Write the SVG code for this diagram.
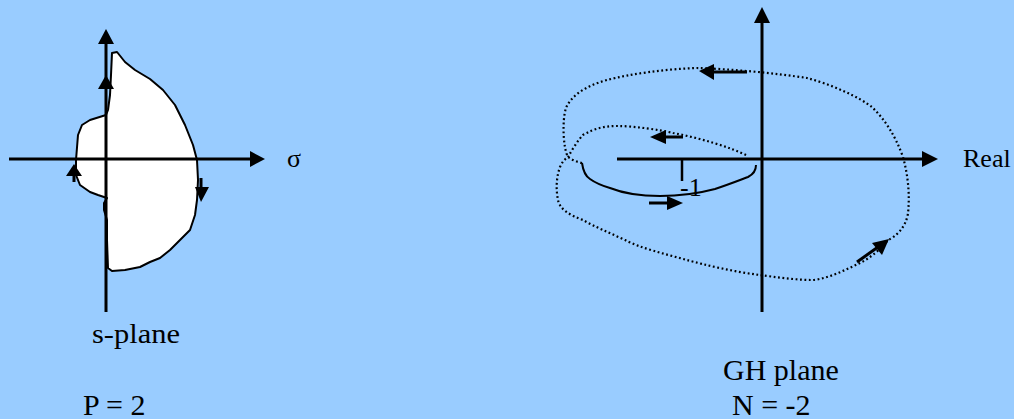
<svg xmlns="http://www.w3.org/2000/svg" width="1014" height="419" viewBox="0 0 1014 419">
<style>
.axis{stroke:#000;stroke-width:3;fill:none}
.head{fill:#000;stroke:none}
.shape{fill:#fff;stroke:#000;stroke-width:2;stroke-linejoin:round}
.dot{fill:none;stroke:#000;stroke-width:2.2;stroke-dasharray:1.8 2.6}
.solid{fill:none;stroke:#000;stroke-width:2}
.stem{stroke:#000;stroke-width:3;fill:none}
.lbl{font-family:'Liberation Serif','Times New Roman','DejaVu Serif',serif;fill:#000}
</style>
<rect width="1014" height="419" fill="#99CCFF"/>
<g id="s-plane">
  <path class="shape" d="M112,53 L117,52 L125,62 L135,70 L150,79 L163,90 L175,105 L185,125 L193,145 L197,160 L198,180 L197,200 L195,215 L190,230 L180,240 L170,250 L160,258 L150,262 L140,267 L125,270 L112,271 L108,268 L107,240 L107,220 L104,210 L104,203 L107,198 L98,195 L90,192 L80,185 L76,175 L76,160 L78,135 L82,125 L90,120 L106,115 L108,110 L110,95 L111,75 Z"/>
  <line class="axis" x1="106" y1="312" x2="106" y2="42"/>
  <polygon class="head" points="106,29 98,44 114,44"/>
  <line class="axis" x1="9" y1="159" x2="252" y2="159"/>
  <polygon class="head" points="265,159 250,151 250,167"/>
  <polygon class="head" points="106,75 98,89 114,89"/>
  <line class="stem" x1="74" y1="172" x2="74" y2="182"/>
  <polygon class="head" points="74,164 66,176 82,176"/>
  <line class="stem" x1="201" y1="178" x2="201" y2="190"/>
  <polygon class="head" points="201,202 195,187 209,187"/>
  <text class="lbl" font-family="Liberation Serif, serif" x="287" y="167" font-size="26">σ</text>
  <text class="lbl" font-family="Liberation Serif, serif" x="92" y="343" font-size="28" textLength="88" lengthAdjust="spacingAndGlyphs">s-plane</text>
  <text class="lbl" font-family="Liberation Serif, serif" x="83" y="415" font-size="30">P = 2</text>
</g>
<g id="gh-plane">
  <line class="axis" x1="762" y1="312" x2="762" y2="21"/>
  <polygon class="head" points="762,7 754,23 770,23"/>
  <line class="axis" x1="617" y1="159" x2="924" y2="159"/>
  <polygon class="head" points="938,159 922,151 922,167"/>
  <line class="axis" x1="682" y1="159" x2="682" y2="181" style="stroke-width:2.5"/>
  <text class="lbl" font-family="Liberation Serif, serif" x="963" y="167" font-size="26">Real</text>
  <text class="lbl" font-family="Liberation Serif, serif" x="680" y="196" font-size="26">-1</text>
  <text class="lbl" font-family="Liberation Serif, serif" x="723" y="380" font-size="30">GH plane</text>
  <text class="lbl" font-family="Liberation Serif, serif" x="732" y="415" font-size="30">N = -2</text>
</g>
<g id="connectors">
  <path class="dot" d="M582,163 C577,162 572,160 568,157 C563,148 562,120 566,108 C571,96 585,86 607,80 C630,74 665,69 697,68 C730,69 775,73 807,78 C830,84 860,97 873,108 C885,120 895,135 903,157 C908,175 910,195 908,213 C906,228 895,237 888,240 C880,250 870,258 860,263 C845,270 830,278 813,280 C795,280 775,277 760,275 C735,272 705,265 687,260 C665,254 640,248 625,240 C610,233 595,227 583,220 C570,215 560,210 558,200 C556,190 556,178 560,167 C562,162 565,159 568,157 C572,150 578,140 583,135 C595,128 605,126 617,126 C635,126 660,130 673,133 C700,138 730,147 748,156"/>
  <path class="solid" d="M582,163 C583,170 585,176 590,179 C597,184 603,186 610,188 C625,194 640,196 660,196 C680,196 700,193 715,189 C730,184 740,180 748,177 C754,174 756,170 756,165"/>
  <line class="stem" x1="713" y1="72" x2="747" y2="72"/>
  <polygon class="head" points="699,71 714,64 714,80"/>
  <line class="stem" x1="664" y1="137" x2="683" y2="137"/>
  <polygon class="head" points="650,137 666,130 666,144"/>
  <line class="stem" x1="649" y1="203" x2="669" y2="203"/>
  <polygon class="head" points="683,203 667,196 667,210"/>
  <line class="stem" x1="857" y1="262" x2="878" y2="247"/>
  <polygon class="head" points="889,239 872,243 882,255"/>
</g>
</svg>
